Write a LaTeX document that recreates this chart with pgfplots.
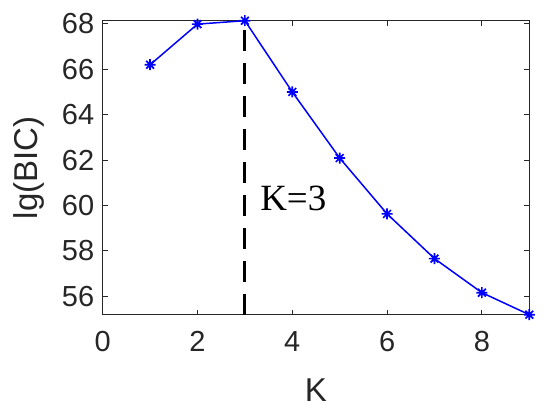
\documentclass[border=0pt]{standalone}
\usepackage{fontspec}
\setmainfont{Liberation Sans}
\newfontfamily\timesfont{Liberation Serif}
\usepackage{pgfplots}
\pgfplotsset{compat=1.18}

% MATLAB-style '*' marker: plus and cross together
\pgfdeclareplotmark{mstar}{%
  \pgfpathmoveto{\pgfpoint{-\pgfplotmarksize}{0pt}}\pgfpathlineto{\pgfpoint{\pgfplotmarksize}{0pt}}%
  \pgfpathmoveto{\pgfpoint{0pt}{-\pgfplotmarksize}}\pgfpathlineto{\pgfpoint{0pt}{\pgfplotmarksize}}%
  \pgfpathmoveto{\pgfpoint{-0.707\pgfplotmarksize}{-0.707\pgfplotmarksize}}\pgfpathlineto{\pgfpoint{0.707\pgfplotmarksize}{0.707\pgfplotmarksize}}%
  \pgfpathmoveto{\pgfpoint{-0.707\pgfplotmarksize}{0.707\pgfplotmarksize}}\pgfpathlineto{\pgfpoint{0.707\pgfplotmarksize}{-0.707\pgfplotmarksize}}%
  \pgfusepathqstroke}

\begin{document}
\begin{tikzpicture}
\useasboundingbox (-102.7pt,-99.3pt) rectangle (447.3pt,314.7pt);
\begin{axis}[
  scale only axis,
  width=426.6pt,height=294pt,
  xmin=0,xmax=9,ymin=55.19,ymax=68.14,
  xtick={0,2,...,8},
  ytick={56,58,...,68},
  tick align=inside,
  major tick length=5pt,
  axis line style={line width=1.1pt,black!85},
  tick style={line width=1.1pt,black!85},
  /pgf/number format/assume math mode=true,
  tick label style={font=\fontsize{29}{32}\selectfont,text=black!85},
  xticklabel style={yshift=-13pt},
  yticklabel style={xshift=-5pt},
  every axis x label/.style={at={(axis description cs:0.5,-0.257)},anchor=center},
  every axis y label/.style={at={(axis description cs:-0.1735,0.5)},rotate=90,anchor=center},
  label style={font=\fontsize{33}{36}\selectfont,text=black!85},
  xlabel={K},
  ylabel={lg(BIC)},
  clip=false,
]
\addplot[black,line width=3pt,dash pattern=on 21pt off 12pt] coordinates {(3,55.19) (3,68.14)};
\addplot[blue,line width=1.5pt,mark=mstar,mark size=5.5pt,mark options={line width=1.7pt}] coordinates {
(1,66.20) (2,67.99) (3,68.14) (4,65.00) (5,62.09)
(6,59.63) (7,57.66) (8,56.16) (9,55.19)
};
\node[anchor=base west,inner sep=0pt,font=\timesfont\fontsize{37}{40}\selectfont] at (axis cs:3.32,59.8) {K=3};
\end{axis}
\end{tikzpicture}
\end{document}
